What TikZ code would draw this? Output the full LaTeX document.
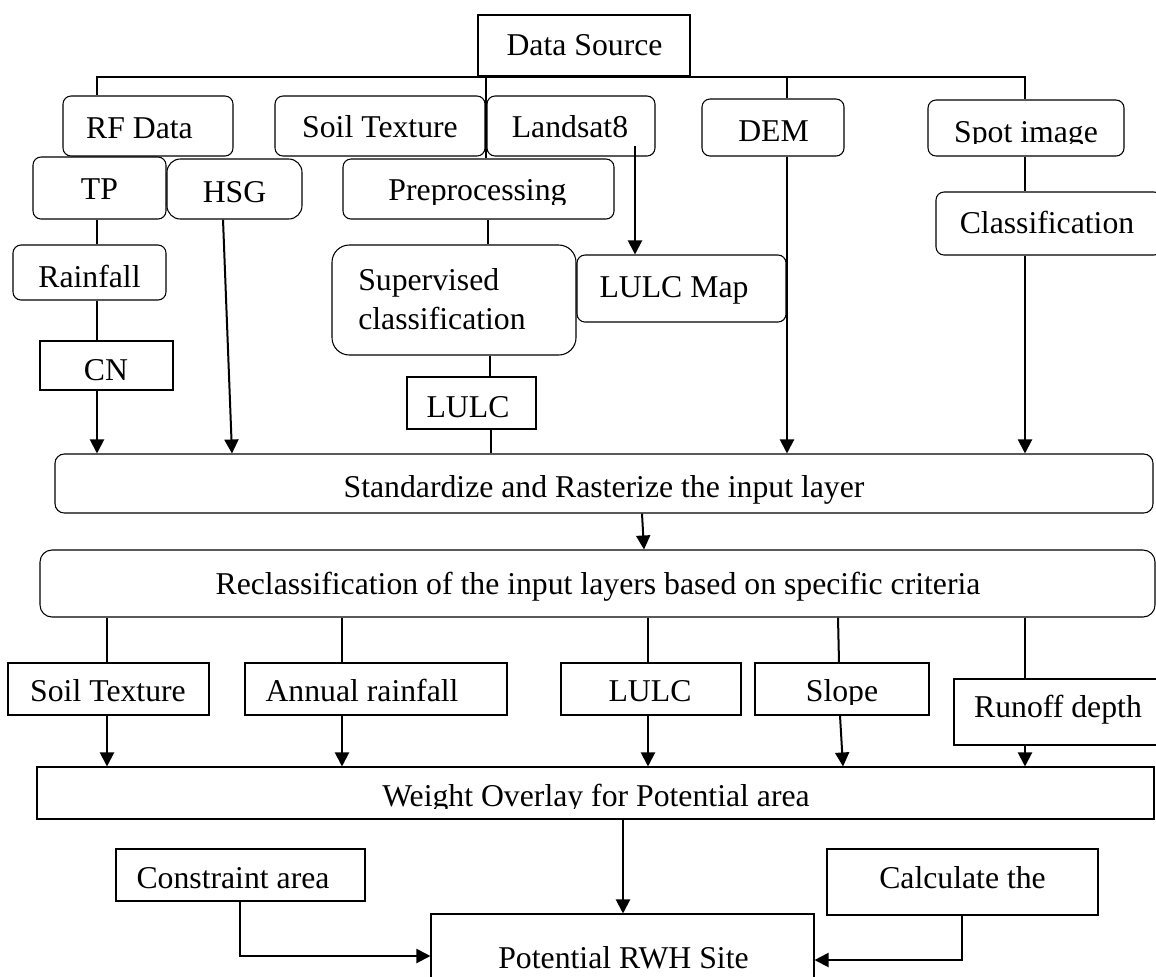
\documentclass[tikz,border=0pt]{standalone}
\usepackage{fontspec}
\setmainfont{Liberation Serif}
\usetikzlibrary{arrows.meta,fit}
\begin{document}
\begin{tikzpicture}[x=0.75pt,y=-0.75pt,
  rbox/.style={draw, line width=0.8pt, rounded corners=6pt, inner sep=0pt},
  sbox/.style={draw, line width=0.8pt, inner sep=0pt},
  lbl/.style={font=\fontsize{23.8}{28}\selectfont, inner sep=0pt, anchor=base},
  conn/.style={line width=1.5pt},
  arr/.style={conn, -{Triangle[length=10.5pt,width=10.5pt]}}]
\useasboundingbox (0,0) rectangle (1156,976);
% ---- boxes ----
\node[sbox, line width=2pt, fit={(478,15) (690,76)}] (ds) {};
\node[rbox, fit={(63,96) (233,156)}] (rf) {};
\node[rbox, fit={(275,96) (485,156)}] (st1) {};
\node[rbox, fit={(487,96) (655,156)}] (ls) {};
\node[rbox, fit={(702,99) (844,156)}] (dem) {};
\node[rbox, fit={(928,100) (1124,156)}] (spot) {};
\node[rbox, fit={(33,157) (166,219)}] (tp) {};
\node[rbox, rounded corners=10pt, fit={(167,159) (302,219)}] (hsg) {};
\node[rbox, fit={(343,159) (614,219)}] (pre) {};
\node[rbox, fit={(13,245) (166,300)}] (rain) {};
\node[sbox, fit={(40,341) (173,390)}] (cn) {};
\node[rbox, rounded corners=13pt, fit={(332,245) (576,355)}] (sup) {};
\node[rbox, fit={(577,255) (786,322)}] (lmap) {};
\node[rbox, fit={(936,192) (1162,255)}] (cls) {};
\node[sbox, fit={(407,377) (536,429)}] (lulc) {};
\node[rbox, rounded corners=7pt, fit={(55,454) (1153,513)}] (std) {};
\node[rbox, rounded corners=9pt, fit={(40,550) (1155,617)}] (rec) {};
\node[sbox, fit={(8,663) (209,715)}] (st2) {};
\node[sbox, fit={(245,663) (507,715)}] (ar) {};
\node[sbox, fit={(561,663) (741,715)}] (lulc2) {};
\node[sbox, fit={(755,663) (929,715)}] (slope) {};
\node[sbox, fit={(954,679) (1162,745)}] (run) {};
\node[sbox, fit={(37,767) (1154,819)}] (wo) {};
\node[sbox, fit={(116,849) (365,901)}] (con) {};
\node[sbox, fit={(827,849) (1098,915)}] (calc) {};
\node[sbox, fit={(431,914) (814,995)}] (pot) {};
% ---- labels ----
\node[lbl] (dsT) at (584.5,55) {Data Source};
\node[lbl] (rfT) at (139.5,138) {RF Data};
\node[lbl] (st1T) at (380,137) {Soil Texture};
\node[lbl] (lsT) at (570,137) {Landsat8};
\node[lbl] (demT) at (773.5,141) {DEM};
\begin{scope}
\clip (928,100) rectangle (1124,143.5);
\node[lbl] (spotT) at (1026,142) {Spot image};
\end{scope}
\node[lbl] (tpT) at (99.5,199) {TP};
\node[lbl] (hsgT) at (234.5,202) {HSG};
\begin{scope}
\clip (343,159) rectangle (614,204.5);
\node[lbl] (preT) at (477.5,200) {Preprocessing};
\end{scope}
\node[lbl] (rainT) at (89.5,287) {Rainfall};
\node[lbl] (cnT) at (106,380) {CN};
\node[lbl, anchor=base west] (supT1) at (358,290) {Supervised};
\node[lbl, anchor=base west] (supT2) at (358,329) {classification};
\node[lbl] (lmapT) at (674,297) {LULC Map};
\node[lbl] (clsT) at (1047,233) {Classification};
\node[lbl] (lulcT) at (468,417) {LULC};
\node[lbl] (stdT) at (604,497) {Standardize and Rasterize the input layer};
\node[lbl] (recT) at (598,594) {Reclassification of the input layers based on specific criteria};
\node[lbl] (st2T) at (108,701) {Soil Texture};
\node[lbl] (arT) at (362,701) {Annual rainfall};
\node[lbl] (lulc2T) at (650,701) {LULC};
\begin{scope}
\clip (755,663) rectangle (929,704);
\node[lbl] (slopeT) at (842,701) {Slope};
\end{scope}
\node[lbl] (runT) at (1058,717) {Runoff depth};
\begin{scope}
\clip (37,767) rectangle (1154,808);
\node[lbl] (woT) at (596,806) {Weight Overlay for Potential area};
\end{scope}
\node[lbl] (conT) at (233,888) {Constraint area};
\node[lbl] (calcT) at (962.5,888) {Calculate the};
\node[lbl] (potT) at (623.5,968) {Potential RWH Site};
% ---- helper columns ----
\coordinate (xA) at (97,0);
\coordinate (xB) at (486,0);
\coordinate (xC) at (787,0);
\coordinate (xD) at (1025,0);
\coordinate (xE) at (488,0);
\coordinate (xF) at (490,0);
\coordinate (xF2) at (491,0);
\coordinate (xG) at (635,0);
\coordinate (yG) at (0,146);
\coordinate (xH1) at (223,0);
\coordinate (xH2) at (232,0);
\coordinate (xS1) at (642,0);
\coordinate (xS2) at (644,0);
\coordinate (x107) at (107,0);
\coordinate (x342) at (342,0);
\coordinate (x648) at (648,0);
\coordinate (x838) at (838,0);
\coordinate (x839) at (839,0);
\coordinate (x840) at (840,0);
\coordinate (x843) at (843,0);
\coordinate (x623) at (623,0);
\coordinate (x240) at (240,0);
\coordinate (y956) at (0,956);
\coordinate (x962) at (962,0);
\coordinate (y960) at (0,960);
% ---- connectors ----
\draw[conn] (xA |- rf.north) -- (xA |- ds.south) -- (xD |- ds.south) -- (xD |- spot.north);
\draw[conn] (xB |- ds.south) -- (xB |- pre.north);
\draw[conn] (xC |- ds.south) -- (xC |- dem.north);
\draw[arr] (xC |- dem.south) -- (xC |- std.north);
\draw[conn] (xD |- spot.south) -- (xD |- cls.north);
\draw[arr] (xD |- cls.south) -- (xD |- std.north);
\draw[conn] (xA |- tp.south) -- (xA |- rain.north);
\draw[conn] (xA |- rain.south) -- (xA |- cn.north);
\draw[arr] (xA |- cn.south) -- (xA |- std.north);
\draw[arr] (xH1 |- hsg.south) -- (xH2 |- std.north);
\draw[conn] (xE |- pre.south) -- (xE |- sup.north);
\draw[arr] (xG |- yG) -- (xG |- lmap.north);
\draw[conn] (xF |- sup.south) -- (xF |- lulc.north);
\draw[conn] (xF2 |- lulc.south) -- (xF2 |- std.north);
\draw[arr] (xS1 |- std.south) -- (xS2 |- rec.north);
\draw[conn] (x107 |- rec.south) -- (x107 |- st2.north);
\draw[arr] (x107 |- st2.south) -- (x107 |- wo.north);
\draw[conn] (x342 |- rec.south) -- (x342 |- ar.north);
\draw[arr] (x342 |- ar.south) -- (x342 |- wo.north);
\draw[conn] (x648 |- rec.south) -- (x648 |- lulc2.north);
\draw[arr] (x648 |- lulc2.south) -- (x648 |- wo.north);
\draw[conn] (x838 |- rec.south) -- (x839 |- slope.north);
\draw[arr] (x840 |- slope.south) -- (x843 |- wo.north);
\draw[conn] (xD |- rec.south) -- (xD |- run.north);
\draw[arr] (xD |- run.south) -- (xD |- wo.north);
\draw[arr] (x623 |- wo.south) -- (x623 |- pot.north);
\draw[arr] (x240 |- con.south) -- (x240 |- y956) -- (pot.west |- y956);
\draw[arr] (x962 |- calc.south) -- (x962 |- y960) -- (pot.east |- y960);
\end{tikzpicture}
\end{document}
